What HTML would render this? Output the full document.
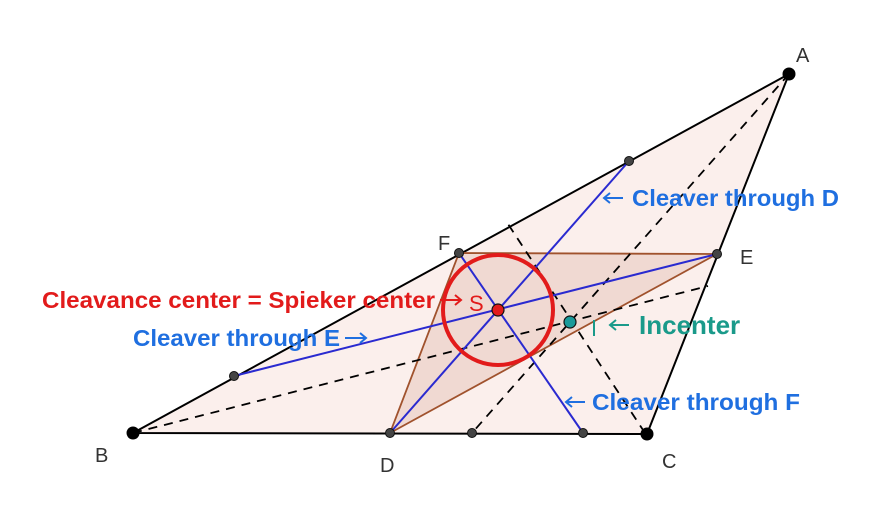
<!DOCTYPE html>
<html><head><style>body{margin:0;background:#fff}</style></head><body>
<svg width="877" height="512" xmlns="http://www.w3.org/2000/svg" font-family="Liberation Sans, DejaVu Sans, sans-serif">
<polygon points="789,74 133,433 647,434" fill="#fbefec" stroke="#000" stroke-width="2"/>
<polygon points="390,433 717,254 459,253" fill="#f0d9d2" stroke="#a0522d" stroke-width="1.8"/>
<g stroke="#000" stroke-width="1.8" stroke-dasharray="9,7" fill="none">
<line x1="133" y1="433" x2="708" y2="286"/>
<line x1="789" y1="74" x2="472" y2="433"/>
<line x1="645" y1="433" x2="508" y2="224"/>
</g>
<g stroke="#2a2ad0" stroke-width="2">
<line x1="717" y1="254" x2="234" y2="376"/>
<line x1="390" y1="433" x2="629" y2="161"/>
<line x1="459" y1="253" x2="583" y2="433"/>
</g>
<circle cx="498" cy="310" r="55" fill="none" stroke="#e21b1b" stroke-width="4"/>
<line x1="594" y1="320" x2="594" y2="336" stroke="#1a9a8a" stroke-width="2"/>
<g fill="#444" stroke="#111" stroke-width="1">
<circle cx="234" cy="376" r="4.5"/><circle cx="629" cy="161" r="4.5"/><circle cx="583" cy="433" r="4.5"/>
<circle cx="472" cy="433" r="4.5"/><circle cx="390" cy="433" r="4.5"/><circle cx="717" cy="254" r="4.5"/><circle cx="459" cy="253" r="4.5"/>
</g>
<g fill="#000"><circle cx="789" cy="74" r="6.5"/><circle cx="133" cy="433" r="6.5"/><circle cx="647" cy="434" r="6.5"/></g>
<circle cx="498" cy="310" r="6" fill="#e21b1b" stroke="#111" stroke-width="1.2"/>
<circle cx="570" cy="322" r="6" fill="#1a9a9a" stroke="#111" stroke-width="1.2"/>
<g font-size="20" fill="#333">
<text x="796" y="62">A</text><text x="95" y="462">B</text><text x="662" y="468">C</text>
<text x="380" y="472">D</text><text x="740" y="264">E</text><text x="438" y="250">F</text>
</g>
<text x="469" y="311" font-size="22" fill="#e21b1b">S</text>
<g font-size="23" font-weight="bold">
<text x="42" y="308" fill="#e21b1b" textLength="393" lengthAdjust="spacingAndGlyphs">Cleavance center = Spieker center</text>
<text x="133" y="346" fill="#1f6fe0" textLength="207" lengthAdjust="spacingAndGlyphs">Cleaver through E</text>
<text x="632" y="206" fill="#1f6fe0" textLength="207" lengthAdjust="spacingAndGlyphs">Cleaver through D</text>
<text x="592" y="410" fill="#1f6fe0" textLength="208" lengthAdjust="spacingAndGlyphs">Cleaver through F</text>
<text x="639" y="334" fill="#1a9a8a" font-size="26">Incenter</text>
</g>
<g fill="none" stroke-width="2">
<path d="M440,300 H461 M455,295 L461,300 L455,305" stroke="#e21b1b"/>
<path d="M345,338 H366 M360,333 L366,338 L360,343" stroke="#1f6fe0"/>
<path d="M604,198 H623 M610,193 L604,198 L610,203" stroke="#1f6fe0"/>
<path d="M566,402 H585 M572,397 L566,402 L572,407" stroke="#1f6fe0"/>
<path d="M610,325 H629 M616,320 L610,325 L616,330" stroke="#1a9a8a"/>
</g>
</svg>
</body></html>
